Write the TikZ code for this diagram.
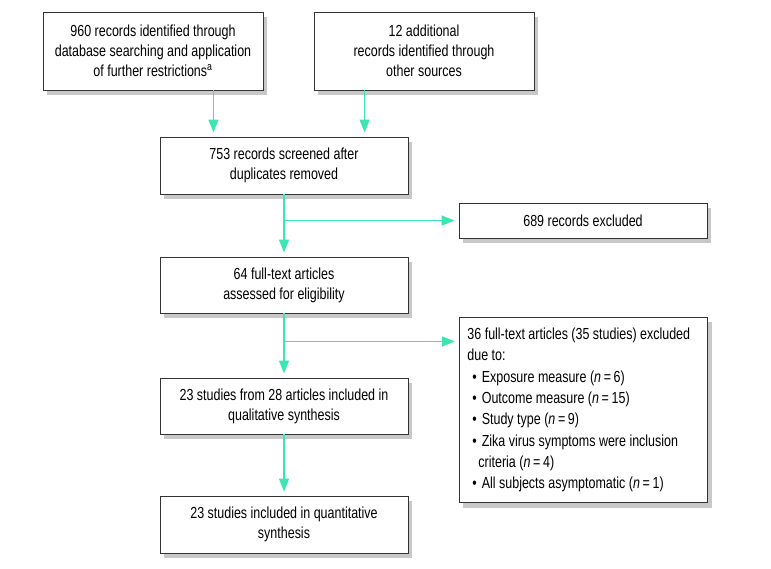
\documentclass[tikz,border=0pt]{standalone}
\usepackage{fontspec}
\setmainfont{Liberation Sans}[FakeStretch=0.78]
\usetikzlibrary{arrows.meta,positioning,backgrounds}
\definecolor{flowgreen}{RGB}{60,230,180}
\definecolor{shadegrey}{RGB}{200,200,200}

\begin{document}
\begin{tikzpicture}[x=1pt,y=-1pt,
    box/.style={draw=black!80, line width=0.9pt, fill=white, align=center, inner sep=4pt,
                font=\fontsize{16}{20}\selectfont},
    flow/.style={draw=flowgreen, line width=1.3pt, -{Triangle[width=10pt,length=13pt]}, shorten >=4pt}]
            \useasboundingbox (0,0) rectangle (771,569);

            % top row
            \node[box, minimum width=220pt, minimum height=78pt] (records) at (153,51)
                {960 records identified through\\database searching and application\\of further restrictions\textsuperscript{a}};
            \node[box, minimum width=220pt, minimum height=78pt] (extra) at (424,51)
                {12 additional\\records identified through\\other sources};

            % main column
            \node[box, minimum width=248pt, minimum height=57pt] (screened) at (284,165.5)
                {753 records screened after\\duplicates removed};
            \node[box, minimum width=248pt, minimum height=56pt] (eligible) at (284,285)
                {64 full-text articles\\assessed for eligibility};
            \node[box, minimum width=248pt, minimum height=56pt] (qualitative) at (284,406)
                {23 studies from 28 articles included in\\qualitative synthesis};
            \node[box, minimum width=248pt, minimum height=57pt] (quantitative) at (284,524.5)
                {23 studies included in quantitative\\synthesis};

            % exclusions
            \node[box, anchor=north west, minimum width=248pt, minimum height=185pt, align=flush left,
                  text width=232pt, inner xsep=8pt, font=\fontsize{16}{21.3}\selectfont] (reasons) at (459,317)
                {36 full-text articles (35 studies) excluded\\
                 due to:\\
                 \hspace{5pt}\textbullet\hspace{5pt}Exposure measure (\textit{n}\,=\,6)\\
                 \hspace{5pt}\textbullet\hspace{5pt}Outcome measure (\textit{n}\,=\,15)\\
                 \hspace{5pt}\textbullet\hspace{5pt}Study type (\textit{n}\,=\,9)\\
                 \hspace{5pt}\textbullet\hspace{5pt}Zika virus symptoms were inclusion\\
                 \hspace{11pt}criteria (\textit{n}\,=\,4)\\
                 \hspace{5pt}\textbullet\hspace{5pt}All subjects asymptomatic (\textit{n}\,=\,1)};
            \node[box, minimum width=248pt, minimum height=35pt] (excluded) at (583,220.5)
                {689 records excluded};

            % shadows
            \begin{pgfonlayer}{background}
                \foreach \n in {records,extra,screened,eligible,qualitative,quantitative,excluded,reasons}
                    \fill[shadegrey] ([xshift=4pt,yshift=-5pt]\n.south west) rectangle ([xshift=4pt,yshift=-5pt]\n.north east);
            \end{pgfonlayer}

            % connectors
            \draw[flow] ([xshift=-50pt]records.south east) -- ([xshift=-50pt]records.south east |- screened.north);
            \draw[flow] ([xshift=51pt]extra.south west) -- ([xshift=51pt]extra.south west |- screened.north);
            \draw[flow] (screened) -- (eligible);
            \coordinate (split1) at (screened.south |- excluded.west);
            \draw[flow] (split1) -- (excluded.west);
            \draw[flow] (eligible) -- (qualitative);
            \coordinate (split2) at ([yshift=-28pt]eligible.south);
            \draw[flow] (split2) -- (split2 -| reasons.west);
            \draw[flow] (qualitative) -- (quantitative);
\end{tikzpicture}
\end{document}
